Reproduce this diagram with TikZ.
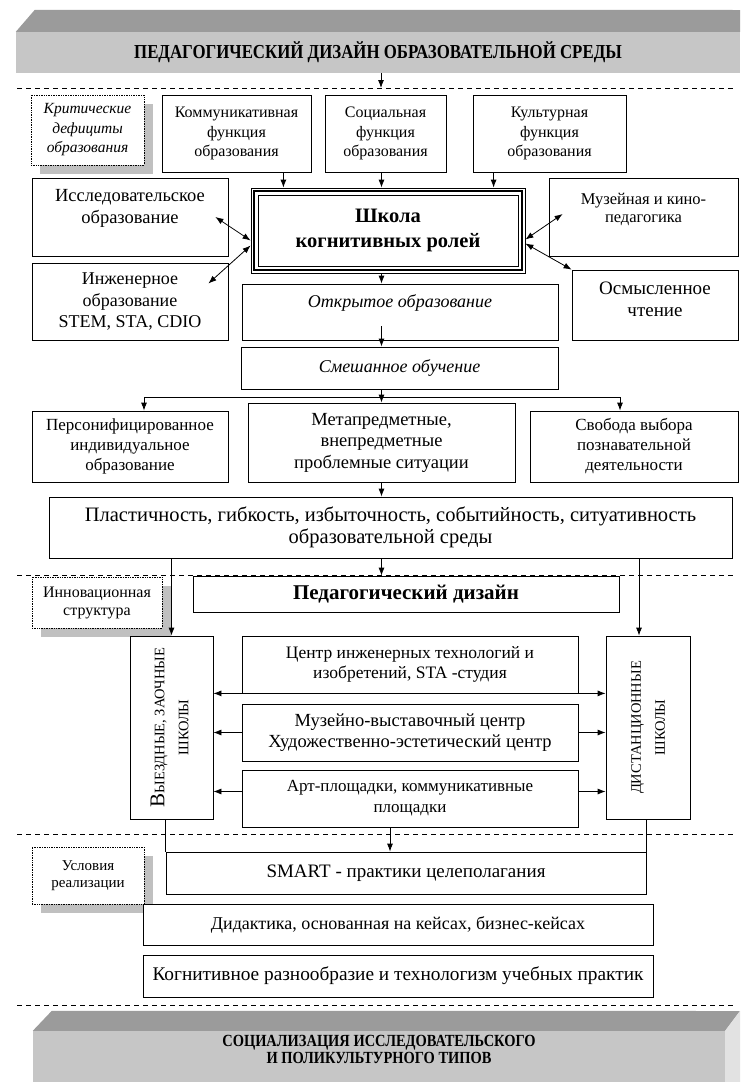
\documentclass[tikz,border=0pt]{standalone}
\usepackage{fontspec}
\setmainfont{Liberation Serif}
\newfontfamily\narrowfont[FakeStretch=0.85]{Liberation Serif}
\usepackage{graphicx}
\usetikzlibrary{arrows.meta,positioning,calc,shadows}
\definecolor{bannerfront}{RGB}{198,198,198}
\definecolor{bannertop}{RGB}{155,155,155}
\definecolor{bannerside}{RGB}{226,226,226}
\definecolor{shadowgray}{RGB}{192,192,192}

\begin{document}
\begin{tikzpicture}[x=1pt, y=-1pt,
    box/.style={rectangle, draw, line width=0.8pt, fill=white, inner sep=2pt, align=center},
    notebox/.style={rectangle, draw, densely dotted, line width=0.7pt, fill=white, inner sep=2pt, align=center,
        drop shadow={shadow xshift=9pt, shadow yshift=-9pt, fill=shadowgray, opacity=1}},
    fs/.style 2 args={font=\fontsize{#1}{#2}\selectfont},
    itfs/.style 2 args={font=\itshape\fontsize{#1}{#2}\selectfont},
    bfs/.style 2 args={font=\bfseries\fontsize{#1}{#2}\selectfont},
    arrow/.style={-{Latex[length=8pt,width=6pt]}, line width=0.8pt},
    darrow/.style={{Latex[length=8pt,width=6pt]}-{Latex[length=8pt,width=6pt]}, line width=0.8pt},
    sepline/.style={dash pattern=on 5pt off 4pt, line width=0.7pt}]

    \useasboundingbox (0,0) rectangle (740,1082);

    % separators between the levels
    \foreach \y in {88,575,834,1005}
        \draw[sepline] (17,\y) -- (735,\y);

    % top banner
    \node[fill=bannerfront, minimum width=724pt, minimum height=41pt, inner sep=0pt,
        font=\narrowfont\bfseries\fontsize{19.8}{22}\selectfont] (titletop) at (378,52.5)
        {ПЕДАГОГИЧЕСКИЙ ДИЗАЙН ОБРАЗОВАТЕЛЬНОЙ СРЕДЫ};
    \fill[bannertop] (titletop.north west) -- ++(19,-22) -- (740,10) -- (titletop.north east) -- cycle;
    \coordinate (topline) at (381,88);
    \draw[arrow] (titletop.south -| topline) -- (topline);

    % functions of education
    \node[notebox, itfs={15.5}{19.5}, minimum width=113pt, minimum height=70pt] (critical) at (87.5,130)
        {Критические\\дефициты\\образования};
    \node[box, fs={16}{19.5}, minimum width=149pt, minimum height=77pt] (comm) at (236.5,133.5)
        {Коммуникативная\\функция\\образования};
    \node[box, fs={16}{19.5}, minimum width=121pt, minimum height=77pt] (social) at (385.5,133.5)
        {Социальная\\функция\\образования};
    \node[box, fs={16}{19.5}, minimum width=153pt, minimum height=77pt] (culture) at (549.5,133.5)
        {Культурная\\функция\\образования};

    % school of cognitive roles
    \node[box, bfs={20.5}{25}, minimum width=274pt, minimum height=85pt] (school) at (388,230.5)
        {Школа\\когнитивных ролей};
    \draw[line width=2.2pt] ([shift={(3.6pt,-3.6pt)}]school.north west) rectangle ([shift={(-3.6pt,3.6pt)}]school.south east);
    \draw[line width=0.8pt] ([shift={(7.5pt,-7.5pt)}]school.north west) rectangle ([shift={(-7.5pt,7.5pt)}]school.south east);

    \node[box, fs={18.5}{22}, minimum width=196pt, minimum height=78pt] (research) at (130,217)
        {Исследовательское\\образование\\\mbox{}};
    \node[box, fs={18}{21.5}, minimum width=196pt, minimum height=77pt] (engineer) at (130,301.5)
        {Инженерное\\образование\\STEM, STA, CDIO};
    \node[box, fs={16.5}{18.5}, minimum width=189pt, minimum height=78pt] (museum) at (643.5,217)
        {Музейная и кино-\\педагогика\\\mbox{}};
    \node[box, fs={19}{22}, minimum width=166pt, minimum height=70pt] (reading) at (655,305)
        {Осмысленное\\чтение\\[-10pt]\mbox{}};

    \node[box, itfs={18}{22}, minimum width=316pt, minimum height=56pt] (open) at (400,312)
        {Открытое образование\\\mbox{}};
    \node[box, itfs={18}{22}, minimum width=317pt, minimum height=42pt] (mixed) at (399.5,368)
        {Смешанное обучение};

    \node[box, fs={17}{20}, minimum width=196pt, minimum height=71pt] (person) at (130,446.5)
        {Персонифицированное\\индивидуальное\\образование};
    \node[box, fs={18.5}{21.5}, minimum width=267pt, minimum height=79pt] (meta) at (381.5,442.5)
        {Метапредметные,\\внепредметные\\проблемные ситуации};
    \node[box, fs={17}{20}, minimum width=208pt, minimum height=71pt] (free) at (634,446.5)
        {Свобода выбора\\познавательной\\деятельности};

    \node[box, fs={20.5}{22}, minimum width=683pt, minimum height=61pt] (plastic) at (390.5,527.5)
        {Пластичность, гибкость, избыточность, событийность, ситуативность\\образовательной среды};

    % innovation structure
    \node[notebox, fs={16}{18}, minimum width=130pt, minimum height=51pt] (innov) at (97,602.5)
        {Инновационная\\структура};
    \node[box, bfs={21}{24}, minimum width=426pt, minimum height=36pt] (design) at (406,594)
        {Педагогический дизайн};

    \node[box, fs={14.5}{24}, minimum width=83pt, minimum height=183pt] (away) at (171.5,727.5)
        {\rotatebox{90}{\begin{tabular}{@{}c@{}}{\fontsize{21}{24}\selectfont В}ЫЕЗДНЫЕ, ЗАОЧНЫЕ\\ШКОЛЫ\end{tabular}}};
    \node[box, fs={14.5}{24}, minimum width=84pt, minimum height=183pt] (remote) at (648,727.5)
        {\rotatebox{90}{\begin{tabular}{@{}c@{}}ДИСТАНЦИОННЫЕ\\ШКОЛЫ\end{tabular}}};

    \node[box, fs={17.5}{20}, minimum width=336pt, minimum height=57pt] (center) at (410,664.5)
        {Центр инженерных технологий и\\изобретений, STA -студия};
    \node[box, fs={18.5}{20.5}, minimum width=336pt, minimum height=57pt] (museumc) at (410,732.5)
        {Музейно-выставочный центр\\Художественно-эстетический центр};
    \node[box, fs={17}{21}, minimum width=336pt, minimum height=57pt] (art) at (410,798.5)
        {Арт-площадки, коммуникативные\\площадки};

    % conditions of realization
    \node[box, fs={19}{22}, minimum width=480pt, minimum height=42pt] (smart) at (406,873)
        {SMART - практики целеполагания};
    \node[notebox, fs={15}{17}, minimum width=112pt, minimum height=57pt] (cond) at (88,875.5)
        {Условия\\реализации};
    \node[box, fs={18}{22}, minimum width=510pt, minimum height=41pt] (didactic) at (398,924.5)
        {Дидактика, основанная на кейсах, бизнес-кейсах};
    \node[box, fs={19.3}{22}, minimum width=510pt, minimum height=42pt] (cognitive) at (398,976)
        {Когнитивное разнообразие и технологизм учебных практик};

    % bottom banner
    \node[fill=bannerfront, minimum width=692pt, minimum height=36pt, inner sep=0pt, align=center,
        font=\narrowfont\bfseries\fontsize{17}{17}\selectfont] (titlebot) at (379,1049)
        {СОЦИАЛИЗАЦИЯ ИССЛЕДОВАТЕЛЬСКОГО\\И ПОЛИКУЛЬТУРНОГО ТИПОВ};
    \fill[bannerfront] (titlebot.south west) rectangle ++(692,15);
    \fill[bannertop] (titlebot.north west) -- ++(19,-20) -- (740,1011) -- (titlebot.north east) -- cycle;
    \fill[bannerside] (titlebot.north east) -- (740,1011) -- (740,1082) -- (725,1082) -- cycle;

    % connectors
    \coordinate (commfoot) at ([xshift=-28pt]comm.south east);
    \coordinate (cultfoot) at ([xshift=21pt]culture.south west);
    \draw[arrow] (commfoot) -- (commfoot |- school.north);
    \draw[arrow] (social.south -| meta.north) -- (school.north -| meta.north);
    \draw[arrow] (cultfoot) -- (cultfoot |- school.north);

    \draw[darrow] ([xshift=-13pt]research.east) -- ([yshift=-10pt]school.west);
    \draw[darrow] ([yshift=-15pt]school.west) -- ([xshift=-20pt,yshift=18pt]engineer.east);
    \draw[darrow] ([yshift=-9pt]school.east) -- ([xshift=14pt,yshift=3pt]museum.west);
    \draw[darrow] ([yshift=-13pt]school.east) -- (reading.north west);

    \draw[arrow] (school.south -| meta.north) -- (open.north -| meta.north);
    \coordinate (openfoot) at ([yshift=14pt]open.south);
    \draw[arrow] (openfoot -| meta.north) -- (mixed.north -| meta.north);

    \coordinate (fork) at ($(mixed.south -| meta.north)+(0,8)$);
    \coordinate (personfoot) at ([xshift=14pt]person.north);
    \coordinate (freefoot) at ([xshift=-14pt]free.north);
    \draw (mixed.south -| fork) -- (fork);
    \draw[arrow] (fork) -- (meta.north);
    \draw[arrow] (fork) -| (personfoot);
    \draw[arrow] (fork) -| (freefoot);

    \draw[arrow] (meta.south) -- (meta.south |- plastic.north);
    \draw[arrow] (plastic.south -| meta.north) -- (design.north -| meta.north);
    \coordinate (remotetop) at ([xshift=-9pt]remote.north);
    \draw[arrow] (plastic.south -| away.north) -- (away.north);
    \draw[arrow] (plastic.south -| remotetop) -- (remotetop);

    \draw[darrow] (away.east |- center.south) -- (remote.west |- center.south);
    \draw[arrow] (museumc.west) -- (museumc.west -| away.east);
    \draw[arrow] (museumc.east) -- (museumc.east -| remote.west);
    \coordinate (artleft) at ([yshift=7pt]art.west);
    \coordinate (artright) at ([yshift=7pt]art.east);
    \draw[arrow] (artleft) -- (artleft -| away.east);
    \draw[arrow] (artright) -- (artright -| remote.west);

    \coordinate (artfoot) at ([xshift=-20pt]art.south);
    \draw[arrow] (artfoot) -- (artfoot |- smart.north);
    \draw (away.south -| smart.north west) -- (smart.north west);
    \draw (remote.south -| smart.north east) -- (smart.north east);
\end{tikzpicture}
\end{document}
